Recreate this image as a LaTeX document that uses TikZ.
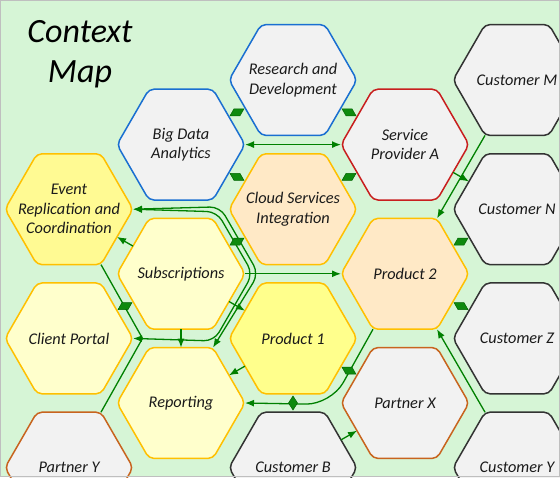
\documentclass[tikz,border=0pt]{standalone}
\usepackage{fontspec}
\setmainfont{Carlito}
\usetikzlibrary{shapes.geometric,arrows.meta,calc}
\definecolor{bg}{HTML}{D6F5D6}
\definecolor{frm}{HTML}{BFBFBF}
\definecolor{gfill}{HTML}{F2F2F2}
\definecolor{blueb}{HTML}{1A6FD1}
\definecolor{redb}{HTML}{C81E1E}
\definecolor{darkb}{HTML}{333333}
\definecolor{brownb}{HTML}{C8641E}
\definecolor{gold}{HTML}{FFC000}
\definecolor{peach}{HTML}{FFE9C6}
\definecolor{yelA}{HTML}{FFFF8C}
\definecolor{yelB}{HTML}{FFFA93}
\definecolor{pale}{HTML}{FFFFCC}
\definecolor{gr}{HTML}{008000}
\definecolor{mkg}{HTML}{0E8A0E}
\definecolor{mkd}{HTML}{006400}
\definecolor{txt}{HTML}{1A1A1A}
\tikzset{
  hexs/.style={regular polygon, regular polygon sides=6, minimum size=128pt, inner sep=0pt, outer sep=0pt, line width=1.5pt, rounded corners=5pt},
  gry/.style={hexs, fill=gfill},
  ylw/.style={hexs, draw=gold},
  lbl/.style={font=\fontsize{16.3}{19.5}\selectfont\itshape, text=txt, align=center, inner sep=0pt},
  ttl/.style={font=\fontsize{34}{40}\selectfont\itshape, text=black, align=center, inner sep=0pt},
  conn/.style={draw=gr, line width=1.3pt},
  arr/.style={conn, -{Latex[length=9pt,width=7pt]}},
  darr/.style={conn, {Latex[length=9pt,width=7pt]}-{Latex[length=9pt,width=7pt]}},
  mk/.style={fill=mkg, draw=mkd, line width=0.5pt},
}
\newcommand\mkR[1]{\path[mk] ($(#1)+(-7,3.5)$) -- ++(10,0) -- ++(4,-7) -- ++(-10,0) -- cycle;}
\newcommand\mkL[1]{\path[mk] ($(#1)+(7,3.5)$) -- ++(-10,0) -- ++(-4,-7) -- ++(10,0) -- cycle;}
\newcommand\mkV[1]{\path[mk] ($(#1)+(0,-7)$) -- ++(4.5,7) -- ++(-4.5,7) -- ++(-4.5,-7) -- cycle;}
\begin{document}
\begin{tikzpicture}[x=1pt,y=-1pt]
\useasboundingbox (0,0) rectangle (560,477);
\begin{scope}
\clip (0,0) rectangle (560,477);
\fill[bg] (0,0) rectangle (560,477);

\node[ttl] (title) at (80,54) {Context\\Map};

% hexagons
\node[gry, draw=blueb] (rd) at (293,80) {};
\node[gry, draw=darkb] (cm) at (517,80) {};
\node[gry, draw=blueb] (bda) at (181,144.6) {};
\node[gry, draw=redb] (spa) at (405,144.6) {};
\node[ylw, fill=yelB] (er) at (69,209.2) {};
\node[ylw, fill=peach] (cs) at (293,209.2) {};
\node[gry, draw=darkb] (cn) at (517,209.2) {};
\node[ylw, fill=pale] (subs) at (181,273.8) {};
\node[ylw, fill=peach] (p2) at (405,273.8) {};
\node[ylw, fill=pale] (cp) at (69,338.4) {};
\node[ylw, fill=yelA] (p1) at (293,338.4) {};
\node[gry, draw=darkb] (cz) at (517,338.4) {};
\node[ylw, fill=pale] (rep) at (181,403) {};
\node[gry, draw=brownb] (px) at (405,403) {};
\node[gry, draw=brownb] (py) at (69,467.6) {};
\node[gry, draw=darkb] (cb) at (293,467.6) {};
\node[gry, draw=darkb] (cy) at (517,467.6) {};

% labels
\node[lbl] (rd-t) at (rd) {Research and\\Development};
\node[lbl] (cm-t) at (cm) {Customer M};
\node[lbl] (bda-t) at (bda) {Big Data\\Analytics};
\node[lbl] (spa-t) at (spa) {Service\\Provider A};
\node[lbl] (er-t) at (er) {Event\\Replication and\\Coordination};
\node[lbl] (cs-t) at (cs) {Cloud Services\\Integration};
\node[lbl] (cn-t) at (cn) {Customer N};
\node[lbl] (subs-t) at (subs) {Subscriptions};
\node[lbl] (p2-t) at (p2) {Product 2};
\node[lbl] (cp-t) at (cp) {Client Portal};
\node[lbl] (p1-t) at (p1) {Product 1};
\node[lbl] (cz-t) at (cz) {Customer Z};
\node[lbl] (rep-t) at (rep) {Reporting};
\node[lbl] (px-t) at (px) {Partner X};
\node[lbl] (py-t) at (py) {Partner Y};
\node[lbl] (cb-t) at (cb) {Customer B};
\node[lbl] (cy-t) at (cy) {Customer Y};

% long connectors
\draw[darr] (bda.east) -- (spa.west);
\draw[arr] (cm.240) -- (p2.60);
\draw[arr] (cy.120) -- (p2.-60);
\draw[arr] (subs.east) -- (p2.west);
\draw[arr, rounded corners=25pt] (p2.240) -- (331,404.5) -- (rep.east);
\draw[darr, rounded corners=10pt] (er.east) -- (220,206.8) -- (258.6,273.8) -- (rep.60);
\draw[darr, rounded corners=10pt] (er.east) -- (216.9,211.8) -- (252.8,273.8) -- (214,341) -- (cp.east);
\draw[conn] (er.-60) -- (142.5,338.4) -- (py.60);

% short connectors
\draw[arr] (subs.150) -- (er.-30);
\draw[arr] (subs.270) -- (rep.90);
\draw[arr] (subs.-30) -- (p1.150);
\draw[arr] (p1.210) -- (rep.30);
\draw[arr] (cb.30) -- (px.210);
\draw[arr] (spa.-30) -- (cn.150);

% markers
\mkR{$(bda)!0.5!(rd)$}
\mkL{$(rd)!0.5!(spa)$}
\mkL{$(bda)!0.5!(cs)$}
\mkR{$(cs)!0.5!(spa)$}
\mkR{$(p2)!0.5!(cn)$}
\mkL{$(p2)!0.5!(cz)$}
\mkR{$(cs)!0.5!(subs)$}
\mkR{$(cp)!0.5!(subs)$}
\mkL{$(p1)!0.5!(px)$}
\mkV{$(p1)!0.5!(cb)$}
\end{scope}
\draw[frm, line width=1pt] (0.5,0.5) rectangle (559.5,476.5);
\end{tikzpicture}
\end{document}
